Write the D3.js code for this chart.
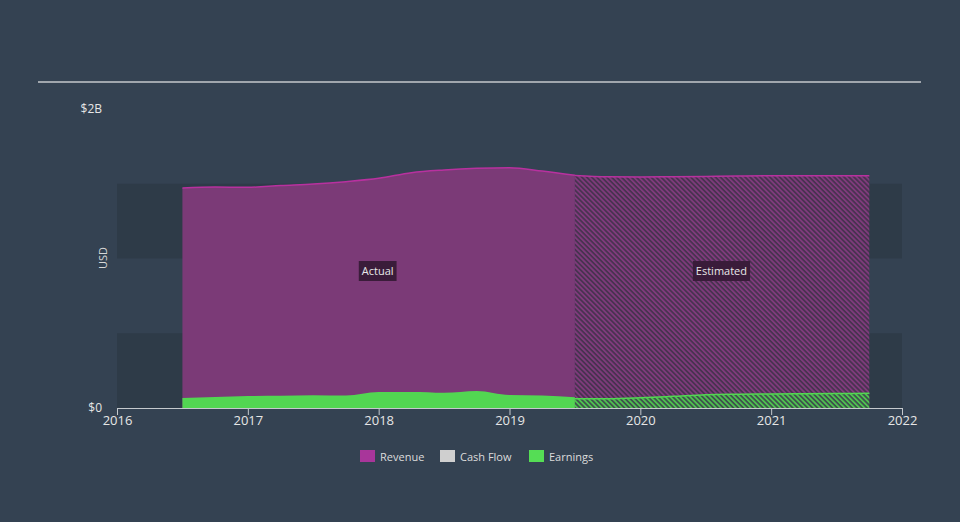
<!DOCTYPE html>
<html><head><meta charset="utf-8">
<script src="https://cdn.jsdelivr.net/npm/d3@7"></script>
<style>
html,body{margin:0;padding:0;background:#344252;}
svg{display:block;font-family:"Open Sans","DejaVu Sans",sans-serif;}
</style></head>
<body>
<svg id="c" width="960" height="522"></svg>
<script>
const actualDates = [2016.5, 2016.75, 2017, 2017.25, 2017.5, 2017.75, 2018, 2018.25, 2018.5, 2018.75, 2019, 2019.25, 2019.5];
const actualRevenue = [1.472, 1.478, 1.476, 1.488, 1.498, 1.514, 1.536, 1.574, 1.592, 1.603, 1.607, 1.585, 1.556];
const actualEarnings = [0.067, 0.074, 0.080, 0.082, 0.085, 0.083, 0.107, 0.107, 0.102, 0.114, 0.087, 0.084, 0.072];
const estDates = [2019.5, 2019.75, 2020, 2020.25, 2020.5, 2020.75, 2021, 2021.25, 2021.5, 2021.75];
const estRevenue = [1.556, 1.546, 1.545, 1.547, 1.549, 1.552, 1.554, 1.554, 1.553, 1.553];
const estEarnings = [0.062, 0.062, 0.068, 0.078, 0.089, 0.092, 0.094, 0.096, 0.097, 0.098];
const xTicks = [2016, 2017, 2018, 2019, 2020, 2021, 2022];
const yTickLabels = [{v: 0, t: "$0"}, {v: 2, t: "$2B"}];
const bandRanges = [[0, 0.5], [1.0, 1.5]];
const legendItems = [{name: "Revenue", color: "#a8369a"}, {name: "Cash Flow", color: "#cfcfcf"}, {name: "Earnings", color: "#55dd55"}];

const svg = d3.select("#c");
const x = d3.scaleLinear().domain([2016, 2022]).range([117, 902]);
const y = d3.scaleLinear().domain([0, 2]).range([408, 109]);

const defs = svg.append("defs");
function hatch(id, base, stripe) {
  const p = defs.append("pattern").attr("id", id).attr("patternUnits", "userSpaceOnUse")
    .attr("width", 3.5).attr("height", 3.5).attr("patternTransform", "rotate(-45)");
  p.append("rect").attr("width", 3.5).attr("height", 3.5).attr("fill", base);
  p.append("rect").attr("width", 1.8).attr("height", 3.5).attr("fill", stripe);
}
hatch("hRev", "#47324f", "#7f3b7c");
hatch("hEarn", "#3d4f4c", "#4fc150");

// top rule
svg.append("line").attr("x1", 38).attr("x2", 921).attr("y1", 82).attr("y2", 82)
  .attr("stroke", "#c5c9cd").attr("stroke-width", 1.5);

// bands
svg.selectAll("rect.band").data(bandRanges).enter().append("rect").attr("class", "band")
  .attr("x", x(2016)).attr("width", x(2022) - x(2016))
  .attr("y", d => y(d[1])).attr("height", d => y(d[0]) - y(d[1]))
  .attr("fill", "#2e3b48");

const A = actualDates.map((d, i) => ({x: d, r: actualRevenue[i], e: actualEarnings[i]}));
const E = estDates.map((d, i) => ({x: d, r: estRevenue[i], e: estEarnings[i]}));
const curve = d3.curveMonotoneX;
const areaR = d3.area().x(d => x(d.x)).y0(y(0)).y1(d => y(d.r)).curve(curve);
const areaE = d3.area().x(d => x(d.x)).y0(y(0)).y1(d => y(d.e)).curve(curve);
const lineR = d3.line().x(d => x(d.x)).y(d => y(d.r)).curve(curve);
const lineE = d3.line().x(d => x(d.x)).y(d => y(d.e)).curve(curve);

svg.append("path").attr("d", areaR(A)).attr("fill", "#7b3a77");
svg.append("path").attr("d", areaR(E)).attr("fill", "url(#hRev)");
svg.append("path").attr("d", lineR(A)).attr("fill", "none").attr("stroke", "#b8319f").attr("stroke-width", 1.5);
svg.append("path").attr("d", lineR(E)).attr("fill", "none").attr("stroke", "#b8319f").attr("stroke-width", 1.5);
svg.append("path").attr("d", areaE(A)).attr("fill", "#52d652");
svg.append("path").attr("d", areaE(E)).attr("fill", "url(#hEarn)");
svg.append("path").attr("d", lineE(E)).attr("fill", "none").attr("stroke", "#52d652").attr("stroke-width", 1.5);

// labels Actual / Estimated
function tag(cx, cy, text) {
  const g = svg.append("g");
  const t = g.append("text").attr("x", cx).attr("y", cy + 4).attr("text-anchor", "middle")
    .attr("font-size", 11).attr("fill", "#e8e8e8").text(text);
  const bb = t.node().getBBox();
  g.insert("rect", "text").attr("x", bb.x - 3).attr("y", cy - 10).attr("width", bb.width + 6).attr("height", 20)
    .attr("fill", "#3a1c3a");
}
tag(x(2018) - 1, 271, "Actual");
tag(x(2020.62), 271, "Estimated");

// x axis
const xAxis = d3.axisBottom(x).tickValues(xTicks).tickFormat(d3.format("d")).tickSize(7).tickSizeOuter(0);
const gx = svg.append("g").attr("transform", `translate(0,${y(0)})`).call(xAxis);
gx.select(".domain").attr("stroke", "#c5c9cd");
gx.selectAll(".tick line").attr("stroke", "#c5c9cd");
gx.selectAll(".tick text").attr("fill", "#e6e6e6").attr("font-size", 13).attr("dy", "0.55em")
  .attr("font-family", "'Open Sans','DejaVu Sans',sans-serif");

// y labels
svg.selectAll("text.ylab").data(yTickLabels).enter().append("text").attr("class", "ylab")
  .attr("x", 102).attr("y", d => y(d.v) + 4).attr("text-anchor", "end")
  .attr("font-size", 12).attr("fill", "#e6e6e6").text(d => d.t);
svg.append("text").attr("transform", "translate(107,258) rotate(-90)").attr("text-anchor", "middle")
  .attr("font-size", 11).attr("fill", "#d8d8d8").text("USD");

// legend
const lx = [360, 440, 529];
const lg = svg.selectAll("g.leg").data(legendItems).enter().append("g").attr("class", "leg")
  .attr("transform", (d, i) => `translate(${lx[i]},450)`);
lg.append("rect").attr("width", 15).attr("height", 12).attr("fill", d => d.color);
lg.append("text").attr("x", 20).attr("y", 10.5).attr("font-size", 11).attr("fill", "#dcdcdc").text(d => d.name);
</script>
</body></html>
